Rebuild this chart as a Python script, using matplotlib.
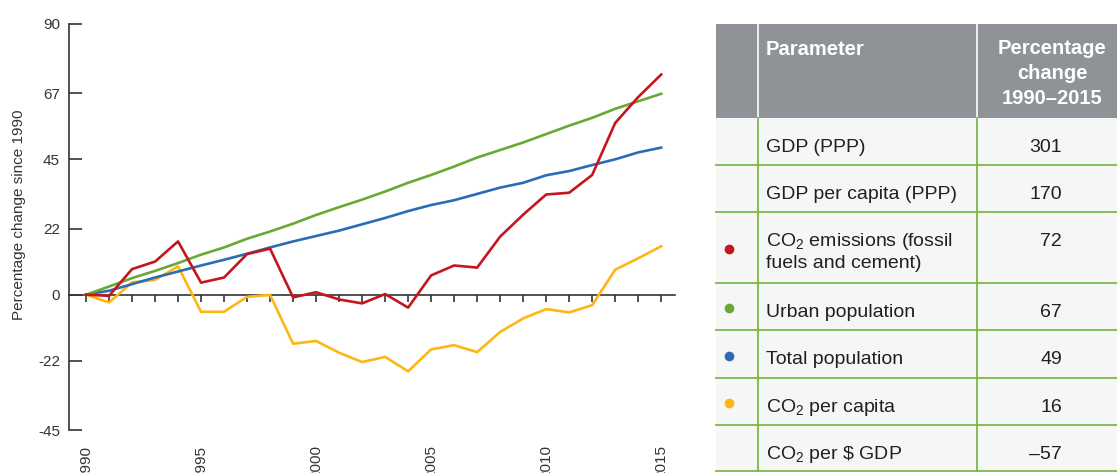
import numpy as np
import matplotlib
matplotlib.use('Agg')
import matplotlib.pyplot as plt
from matplotlib.patches import Rectangle

plt.rcParams['font.family'] = ['Liberation Sans', 'DejaVu Sans']
plt.rcParams['mathtext.fontset'] = 'custom'
plt.rcParams['mathtext.rm'] = 'Liberation Sans'
plt.rcParams['mathtext.it'] = 'Liberation Sans:italic'
plt.rcParams['mathtext.bf'] = 'Liberation Sans:bold'

years = list(range(1990, 2016))

co2_emissions = [0, -0.4, 8.5, 11.0, 17.7, 4.0, 5.7, 13.5, 15.3, -0.9, 0.8, -1.6, -2.9,
                 0.2, -4.3, 6.4, 9.7, 9.0, 19.3, 26.6, 33.3, 33.9, 39.8, 57.1, 65.7, 73.2]
urban_pop = [0, 2.7, 5.5, 7.9, 10.5, 13.3, 15.7, 18.6, 21.0, 23.6, 26.5, 29.1, 31.6,
             34.3, 37.2, 39.8, 42.6, 45.6, 48.1, 50.6, 53.4, 56.2, 58.8, 61.8, 64.3, 66.8]
total_pop = [0, 1.3, 3.5, 5.7, 7.7, 9.7, 11.6, 13.6, 15.7, 17.7, 19.5, 21.3, 23.4,
             25.5, 27.8, 29.8, 31.4, 33.5, 35.6, 37.2, 39.7, 41.1, 43.1, 45.0, 47.3, 48.9]
co2_per_capita = [0, -2.6, 4.1, 4.9, 9.4, -5.7, -5.7, -0.7, -0.1, -16.3, -15.4, -19.3, -22.4,
                  -20.7, -25.5, -18.2, -16.8, -19.1, -12.4, -7.9, -4.8, -5.9, -3.5, 8.3, 12.1, 16.1]

y_ticks = [90, 67, 45, 22, 0, -22, -45]

table_header = ['Parameter', 'Percentage\nchange\n1990\u20132015']
table_params = ['GDP (PPP)', 'GDP per capita (PPP)',
                'CO$_2$ emissions (fossil\nfuels and cement)', 'Urban population',
                'Total population', 'CO$_2$ per capita', 'CO$_2$ per $\\$$ GDP']
table_values = ['301', '170', '72', '67', '49', '16', '\u201357']
table_dots = [None, None, '#c4161c', '#6aa835', '#2a6cb6', '#fcb713', None]

red = '#c4161c'
green = '#6aa835'
blue = '#2a6cb6'
yellow = '#fcb713'
dark = '#333333'

W, H = 1117, 473
fig = plt.figure(figsize=(W / 100, H / 100), dpi=100)

# chart
ax = fig.add_axes([69 / W, (H - 430) / H, (675 - 69) / W, (430 - 24) / H])
lw = 1.9
ax.plot(years, co2_per_capita, color=yellow, lw=lw, zorder=3)
ax.plot(years, total_pop, color=blue, lw=lw, zorder=4)
ax.plot(years, urban_pop, color=green, lw=lw, zorder=4)
ax.plot(years, co2_emissions, color=red, lw=lw, zorder=5)

ax.set_xlim(1989.26, 2015.6)
ax.set_ylim(-45, 90)
for s in ['top', 'right']:
    ax.spines[s].set_visible(False)
ax.spines['bottom'].set_position(('data', 0))
for s in ['left', 'bottom']:
    ax.spines[s].set_color(dark)
    ax.spines[s].set_linewidth(1.2)

ax.set_yticks(y_ticks)
ax.set_yticklabels([str(v) for v in y_ticks])
ax.tick_params(axis='y', direction='in', length=9, width=1.2, color=dark,
               pad=6.5, labelsize=11, labelcolor=dark)

# labels sit at the bottom of the figure, the ticks stay on the zero line
ax.set_xticks(years)
ax.set_xticklabels([str(y) if y % 5 == 0 else '' for y in years], rotation=90)
ax.tick_params(axis='x', direction='out', length=5, width=1.2, color=dark,
               pad=103, labelsize=11, labelcolor=dark)

ax.set_ylabel('Percentage change since 1990', fontsize=11, color=dark)
ax.yaxis.set_label_coords(-0.071, 0.53)

# table
tax = fig.add_axes([0, 0, 1, 1])
tax.set_xlim(0, W)
tax.set_ylim(H, 0)
tax.axis('off')

x0, x1, x2, x3 = 716, 758, 977, 1130
head_top, head_bot = 24, 118
row_edges = [118, 165, 212, 283, 330, 378, 425, 471]
gray = '#8f9397'
line_green = '#7db84a'
row_bg = '#f5f7f6'

tax.add_patch(Rectangle((x0, head_top), x3 - x0, head_bot - head_top, color=gray, lw=0))
tax.plot([x1, x1], [head_top, head_bot], color='white', lw=1.2)
tax.plot([x2, x2], [head_top, head_bot], color='white', lw=1.2)
tax.add_patch(Rectangle((x0, row_edges[0]), x3 - x0, row_edges[-1] - row_edges[0],
                        color=row_bg, lw=0))
for yy in row_edges[1:]:
    tax.plot([x0, x3], [yy, yy], color=line_green, lw=1.3)
tax.plot([x1, x1], [row_edges[0], row_edges[-1]], color=line_green, lw=1.3)
tax.plot([x2, x2], [row_edges[0], row_edges[-1]], color=line_green, lw=1.3)

tax.text(766, 55, table_header[0], color='white', fontsize=14.5, fontweight='bold',
         va='baseline', ha='left')
for i, line in enumerate(table_header[1].split('\n')):
    tax.text(1052, 54.5 + 24.5 * i, line, color='white', fontsize=14.5,
             fontweight='bold', va='baseline', ha='center')

for r, (param, val, dot) in enumerate(zip(table_params, table_values, table_dots)):
    top, bot = row_edges[r], row_edges[r + 1]
    base = top + 33.5
    for j, line in enumerate(param.split('\n')):
        tax.text(766, base + 22.5 * j, line, fontsize=14, color='#231f20',
                 va='baseline', ha='left')
    tax.text(1062, base, val, fontsize=14, color='#231f20', va='baseline', ha='right')
    if dot:
        tax.plot(729, (top + bot) / 2 + 1.5, 'o', color=dot, ms=7, mec='none')

fig.savefig('out.png', dpi=100)
